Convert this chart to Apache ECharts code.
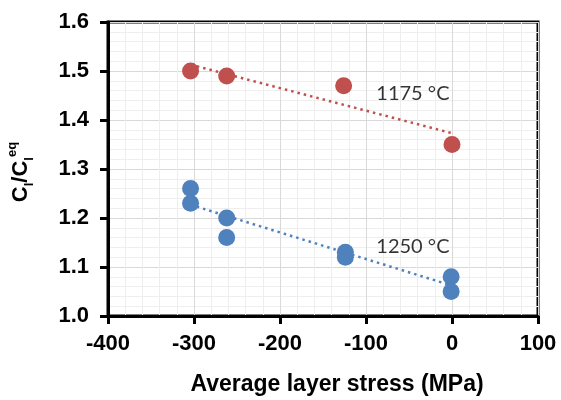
<!DOCTYPE html>
<html>
<head>
<meta charset="utf-8">
<script src="https://cdn.jsdelivr.net/npm/echarts@6/dist/echarts.min.js"></script>
<style>
  html, body { margin: 0; padding: 0; background: #fff; }
  #chart { width: 561px; height: 400px; }
</style>
</head>
<body>
<div id="chart"></div>
<script>
// points: [stress MPa, Cl/Cl_eq]
var red1175 = [[-304, 1.50], [-262, 1.49], [-126, 1.47], [0, 1.35]];
var blue1250 = [[-304, 1.26], [-304, 1.23], [-262, 1.20], [-262, 1.16],
                [-124, 1.13], [-124, 1.12], [-1, 1.08], [-1, 1.05]];
// dotted trend lines, endpoints
var redTrend = [[-304, 1.513], [0, 1.373]];
var blueTrend = [[-304, 1.227], [0, 1.062]];
// text labels next to the trend lines
var tempLabels = [[-88, 1.453, '1175 °C'], [-88, 1.141, '1250 °C']];

var xTicks = { min: -400, max: 100, interval: 100 };
var yTicks = { min: 1.0, max: 1.6, interval: 0.1 };

var RED = '#C0504D';
var BLUE = '#4F81BD';

var chart = echarts.init(document.getElementById('chart'));

var tickFont = { fontFamily: 'Liberation Sans', fontWeight: 'bold', fontSize: 22, color: '#000' };

chart.setOption({
  animation: false,
  grid: {
    left: 108, right: 23, top: 22, bottom: 84,
    outerBoundsMode: 'none',
    show: true, borderColor: '#000', borderWidth: 3
  },
  xAxis: {
    type: 'value',
    min: xTicks.min, max: xTicks.max, interval: xTicks.interval,
    name: 'Average layer stress (MPa)',
    nameLocation: 'middle',
    nameGap: 57,
    nameTextStyle: { fontFamily: 'Liberation Sans', fontWeight: 'bold', fontSize: 23, color: '#000', padding: [0, 0, 0, 28] },
    axisLine: { show: true, onZero: false, lineStyle: { color: '#000', width: 3 } },
    axisTick: { show: true, length: 8, lineStyle: { color: '#000', width: 3 } },
    axisLabel: Object.assign({ margin: 17 }, tickFont),
    splitLine: { show: true, lineStyle: { color: '#d9d9d9', width: 1 } },
    minorTick: { show: false, splitNumber: 5 },
    minorSplitLine: { show: true, lineStyle: { color: '#eeeeee', width: 1 } }
  },
  yAxis: {
    type: 'value',
    min: yTicks.min, max: yTicks.max, interval: yTicks.interval,
    name: '{m|C}{s|l}{m|/C}{s|l}{p|eq}',
    nameLocation: 'middle',
    nameRotate: 90,
    nameGap: 72,
    nameTextStyle: {
      padding: [0, 6, 0, 0],
      rich: {
        m: { fontFamily: 'Liberation Sans', fontWeight: 'bold', fontSize: 22, color: '#000', lineHeight: 30, verticalAlign: 'middle' },
        s: { fontFamily: 'Liberation Sans', fontWeight: 'bold', fontSize: 13, color: '#000', lineHeight: 13, verticalAlign: 'bottom' },
        p: { fontFamily: 'Liberation Sans', fontWeight: 'bold', fontSize: 13, color: '#000', lineHeight: 13, verticalAlign: 'top' }
      }
    },
    axisLine: { show: true, onZero: false, lineStyle: { color: '#000', width: 3 } },
    axisTick: { show: true, length: 8, lineStyle: { color: '#000', width: 3 } },
    axisLabel: Object.assign({ margin: 19, formatter: function (v) { return v.toFixed(1); } }, tickFont),
    splitLine: { show: true, lineStyle: { color: '#d9d9d9', width: 1 } },
    minorTick: { show: false, splitNumber: 5 },
    minorSplitLine: { show: true, lineStyle: { color: '#eeeeee', width: 1 } }
  },
  series: [
    {
      type: 'line', data: redTrend, symbol: 'none', silent: true,
      lineStyle: { color: RED, width: 2.5, type: [2.5, 4] }, z: 2
    },
    {
      type: 'line', data: blueTrend, symbol: 'none', silent: true,
      lineStyle: { color: BLUE, width: 2.5, type: [2.5, 4] }, z: 2
    },
    {
      type: 'scatter', data: red1175, symbolSize: 17,
      itemStyle: { color: RED, opacity: 1 }, z: 3
    },
    {
      type: 'scatter', data: blue1250, symbolSize: 17,
      itemStyle: { color: BLUE, opacity: 1 }, z: 3
    },
    {
      type: 'scatter', data: tempLabels, symbolSize: 0, silent: true,
      label: {
        show: true, position: 'right', distance: 0,
        formatter: function (p) { return p.data[2]; },
        fontFamily: 'Lato', fontSize: 20, color: '#000'
      }
    }
  ]
});
</script>
</body>
</html>
